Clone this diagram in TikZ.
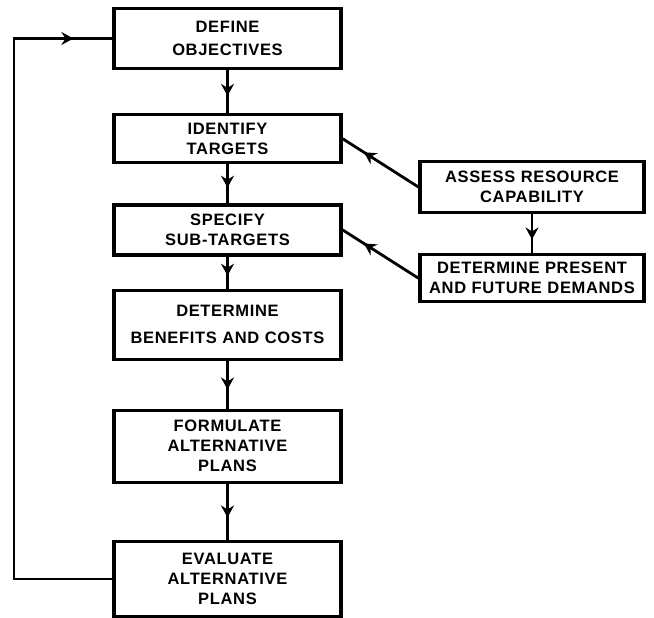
\documentclass[tikz,border=0pt]{standalone}
\usepackage{fontspec}
\setmainfont{Liberation Sans}
\usepackage{tikz}
\usetikzlibrary{arrows.meta,positioning,decorations.markings}
\newcommand{\boxfont}{\fontsize{16.5}{20}\selectfont\bfseries\addfontfeature{LetterSpace=4}}
\tikzstyle{box}=[rectangle, draw=black, line width=3.2pt, text centered,
        text width=219pt, inner sep=4pt, font=\boxfont, text=black]
\tikzstyle{sidebox}=[box, text width=216pt]
\tikzstyle{link}=[draw=black, line width=2.8pt]
\tikzset{midarrow/.style={postaction={decorate}, decoration={markings,
        mark=at position #1 with {\arrow{Stealth[length=12pt,width=13pt,inset=4pt]}}}},
        midarrow/.default=.6}

\begin{document}
\begin{tikzpicture}[x=1pt, y=-1pt]
\useasboundingbox (0,0) rectangle (654,618);
% main column
\node [box, minimum height=60pt] (define) at (227.5,38.5) {DEFINE\\[3pt]OBJECTIVES};
\node [box, minimum height=48pt, below=43pt of define] (identify) {IDENTIFY\\TARGETS};
\node [box, minimum height=50pt, below=39pt of identify] (specify) {SPECIFY\\SUB-TARGETS};
\node [box, minimum height=69pt, below=32pt of specify] (determine) {DETERMINE\\[7pt]BENEFITS AND COSTS};
\node [box, minimum height=72pt, below=48pt of determine] (formulate) {FORMULATE\\ALTERNATIVE\\PLANS};
\node [box, minimum height=75pt, below=56pt of formulate] (evaluate) {EVALUATE\\ALTERNATIVE\\PLANS};
% side column
\node [sidebox, minimum height=51pt] (assess) at (532,187) {ASSESS RESOURCE\\CAPABILITY};
\node [sidebox, minimum height=47pt, below=39pt of assess] (demands) {DETERMINE PRESENT\\AND FUTURE DEMANDS};

\coordinate (looptop) at (14,38.5);

\draw [link, midarrow] (define) -- (identify);
\draw [link, midarrow] (identify) -- (specify);
\draw [link, midarrow] (specify) -- (determine);
\draw [link, midarrow] (determine) -- (formulate);
\draw [link, midarrow] (formulate) -- (evaluate);
\draw [link, midarrow=.65] (assess) -- (demands);
\draw [link, midarrow=.72] (assess.west) -- (identify.east);
\draw [link, midarrow=.72] (demands.west) -- (specify.east);
% feedback loop
\draw [link, midarrow=-39pt] (evaluate.west) -| (looptop) -- (define.west);
\end{tikzpicture}
\end{document}
